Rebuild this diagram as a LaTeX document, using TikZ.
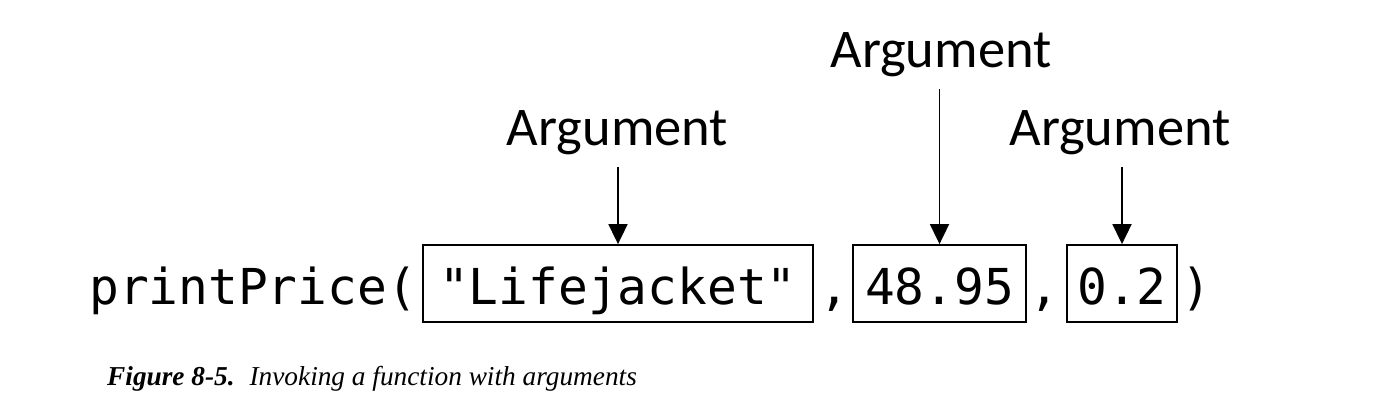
\documentclass[tikz,border=0pt]{standalone}
\usepackage{fontspec}
\usetikzlibrary{arrows.meta}
\newfontfamily\codefont{DejaVu Sans Mono}
\newfontfamily\labfont{Carlito}
\newfontfamily\capfont{Liberation Serif}
\begin{document}
\begin{tikzpicture}[x=1pt,y=-1pt,
  codetxt/.style={font=\codefont\fontsize{49.5}{50}\selectfont, inner sep=0pt},
  argbox/.style={codetxt, draw, line width=1.8pt, text height=59pt, text depth=18pt, align=center},
  arglab/.style={font=\labfont\fontsize{54.5}{56}\selectfont, inner sep=0pt, text depth=22pt, anchor=base},
  arr/.style={line width=1.8pt, -{Triangle[length=20pt,width=19pt]}}
]
\useasboundingbox (0,0) rectangle (1396,412);
% code line
\node[codetxt, anchor=base west] (fn) at (89,304) {printPrice(};
\node[argbox, minimum width=390pt] (b1) at (618,283.5) {"Lifejacket"};
\node[codetxt, anchor=base] (c1) at (834,304) {,};
\node[argbox, minimum width=173pt] (b2) at (939.5,283.5) {48.95};
\node[codetxt, anchor=base] (c2) at (1044,304) {,};
\node[argbox, minimum width=110pt] (b3) at (1122,283.5) {0.2};
\node[codetxt, anchor=base] (cp) at (1196,304) {)};
% labels
\node[arglab] (a1) at (617.5,145) {Argument};
\node[arglab] (a2) at (941,67) {Argument};
\node[arglab] (a3) at (1120,145) {Argument};
% arrows
\draw[arr] (b1.north |- a1.south) -- (b1.north);
\draw[arr] (b2.north |- a2.south) -- (b2.north);
\draw[arr] (b3.north |- a3.south) -- (b3.north);
% caption
\node[anchor=base west, inner sep=0pt, font=\capfont\fontsize{27.3}{30}\selectfont] (cap) at (107,385)
  {\textbf{\textit{Figure 8-5.}}\hspace{0.55em}\textit{Invoking a function with arguments}};
\end{tikzpicture}
\end{document}
